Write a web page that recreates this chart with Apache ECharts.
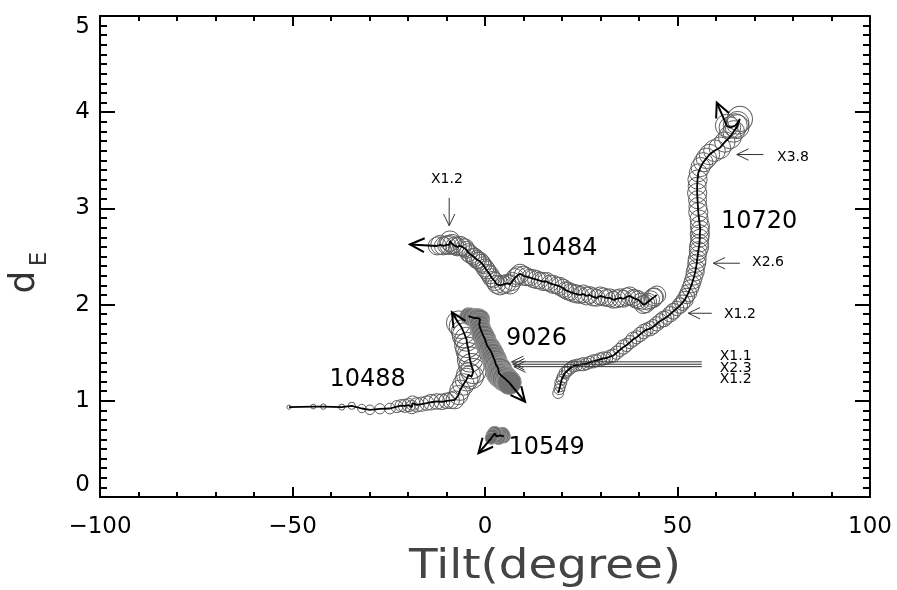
<!DOCTYPE html>
<html><head><meta charset="utf-8">
<script src="https://cdn.jsdelivr.net/npm/echarts@6/dist/echarts.min.js"></script>
<style>html,body{margin:0;padding:0;background:#fff;}#chart{width:897px;height:590px;}</style>
</head><body><div id="chart"></div>
<script>
// ---------- axes ----------
const xTicks = [-100, -50, 0, 50, 100];
const yTicks = [0, 1, 2, 3, 4, 5];
const xTitle = 'Tilt(degree)';
const yTitleMain = 'd';
const yTitleSub = 'E';

// ---------- AR 10488 ----------
const tilt10488 = [-50.9,-44.6,-42.0,-37.2,-34.6,-32.0,-29.9,-27.3,-24.7,-22.9,
  -21.8,-20.8,-19.8,-19.0,-18.8,-17.7,-16.5,-15.1,-14.0,-12.5,
  -11.2,-9.9,-8.8,-7.8,-6.9,-6.5,-5.6,-4.8,-4.3,-3.5,
  -3.0,-3.5,-3.9,-4.1,-4.3,-4.6,-4.8,-5.2,-5.6,-6.2,-6.9];
const dE10488 = [0.934,0.94,0.94,0.934,0.948,0.92,0.906,0.917,0.92,0.94,
  0.95,0.948,0.955,0.934,0.976,0.958,0.965,0.976,0.985,0.993,
  0.99,1.0,1.005,1.01,1.06,1.11,1.17,1.22,1.27,1.25,
  1.31,1.36,1.43,1.48,1.53,1.58,1.64,1.68,1.72,1.77,1.81];
const flux10488 = [0.35,0.4,0.45,0.5,0.6,0.7,0.8,0.85,0.9,1.0,
  1.0,1.1,1.1,1.1,1.2,1.2,1.2,1.2,1.3,1.3,
  1.3,1.3,1.4,1.5,1.6,1.7,1.8,1.9,2.0,2.0,
  2.1,2.1,2.1,2.0,2.1,2.1,2.0,2.1,2.0,2.0,2.0];

// ---------- AR 9026 ----------
const tilt9026 = [-4.3,-3.5,-2.6,-1.9,-1.3,-1.4,-1.5,-1.2,-0.9,-0.5,
  0.0,0.3,0.6,1.0,1.3,1.7,2.0,2.3,2.6,2.8,
  3.0,3.4,3.7,3.6,3.9,4.3,4.8,5.2,5.6,6.0,6.3];
const dE9026 = [1.88,1.87,1.86,1.86,1.85,1.82,1.79,1.75,1.72,1.68,
  1.64,1.60,1.57,1.55,1.53,1.50,1.48,1.44,1.41,1.38,
  1.36,1.34,1.32,1.29,1.27,1.26,1.24,1.23,1.22,1.20,1.19];
const flux9026 = [1.4,1.5,1.5,1.6,1.6,1.6,1.7,1.7,1.7,1.8,
  1.8,1.8,1.8,1.9,1.9,1.9,1.9,2.0,2.0,2.0,
  2.0,2.0,2.1,2.1,2.1,2.1,2.1,2.1,2.0,2.0,2.0];

// ---------- AR 10549 ----------
const tilt10549 = [4.9,4.5,4.0,3.5,3.0,2.5,2.0,1.6];
const dE10549 = [0.63,0.65,0.64,0.62,0.63,0.66,0.64,0.61];
const flux10549 = [1.1,1.2,1.1,1.2,1.1,1.2,1.1,1.0];

// ---------- AR 10484 ----------
const tilt10484 = [44.6,44.0,43.7,43.0,42.4,41.8,41.1,40.4,39.8,39.1,
  38.5,37.6,36.8,36.0,35.1,34.2,33.3,32.4,31.6,30.8,
  29.9,29.0,28.1,27.2,26.4,25.5,24.7,23.8,22.9,22.2,
  21.6,20.9,20.3,19.4,18.6,17.7,16.9,16.0,15.1,14.2,
  13.4,12.5,11.7,10.8,10.0,9.1,8.4,7.8,7.1,6.5,
  5.7,4.8,3.9,3.0,2.6,2.2,1.7,1.3,0.8,0.4,
  0.0,-0.4,-0.9,-1.3,-1.8,-2.2,-2.6,-3.0,-3.7,-4.3,
  -4.8,-5.2,-5.9,-6.5,-7.2,-7.8,-8.5,-9.1,-9.3,-10.0,
  -10.8,-11.6,-12.4];
const dE10484 = [2.10,2.08,2.07,2.05,2.03,2.01,2.00,2.03,2.05,2.06,
  2.07,2.09,2.08,2.06,2.07,2.06,2.05,2.07,2.07,2.08,
  2.09,2.07,2.08,2.10,2.09,2.11,2.10,2.11,2.12,2.13,
  2.14,2.15,2.17,2.19,2.20,2.21,2.22,2.24,2.24,2.25,
  2.26,2.27,2.28,2.29,2.30,2.32,2.30,2.28,2.24,2.21,
  2.22,2.21,2.20,2.21,2.24,2.26,2.28,2.31,2.33,2.36,
  2.38,2.41,2.43,2.45,2.46,2.47,2.49,2.50,2.52,2.54,
  2.57,2.59,2.60,2.61,2.60,2.61,2.63,2.66,2.62,2.62,
  2.61,2.62,2.61];
const flux10484 = [1.5,1.5,1.6,1.5,1.4,1.5,1.5,1.4,1.5,1.5,
  1.4,1.5,1.5,1.4,1.5,1.5,1.4,1.5,1.4,1.5,
  1.5,1.4,1.5,1.4,1.5,1.5,1.4,1.5,1.5,1.4,
  1.5,1.4,1.5,1.5,1.4,1.5,1.4,1.5,1.5,1.4,
  1.5,1.5,1.4,1.5,1.6,1.6,1.5,1.5,1.5,1.6,
  1.5,1.5,1.6,1.5,1.5,1.4,1.5,1.5,1.4,1.5,
  1.5,1.4,1.5,1.5,1.4,1.5,1.5,1.4,1.5,1.5,
  1.4,1.5,1.5,1.6,1.5,1.5,1.6,1.7,1.6,1.5,
  1.5,1.6,1.5];

// ---------- AR 10720 ----------
const tilt10720 = [19.0,19.3,19.5,19.7,19.9,20.3,20.8,21.2,21.6,22.2,
  22.9,23.8,24.7,25.5,26.4,27.2,28.1,29.0,29.9,30.8,
  31.6,32.5,33.3,34.2,35.1,36.0,36.8,37.7,38.5,39.4,
  40.3,41.2,42.0,42.9,43.7,44.6,45.5,46.4,47.2,48.1,
  48.9,49.8,50.6,51.3,51.9,52.4,52.8,53.3,53.7,54.0,
  54.3,54.6,54.8,55.0,55.1,55.3,55.4,55.6,55.7,55.8,
  55.8,55.9,55.8,55.6,55.4,55.3,55.2,55.1,55.1,55.2,
  55.4,56.0,56.7,57.5,58.3,59.6,61.0,62.3,63.6,64.6,
  65.5,66.2,65.6,65.0,63.6,62.8];
const dE10720 = [1.08,1.12,1.15,1.19,1.22,1.25,1.29,1.30,1.32,1.34,
  1.36,1.37,1.375,1.38,1.385,1.40,1.41,1.42,1.43,1.44,
  1.445,1.46,1.47,1.50,1.53,1.56,1.58,1.61,1.64,1.66,
  1.69,1.72,1.74,1.75,1.77,1.80,1.83,1.85,1.87,1.90,
  1.93,1.96,1.99,2.02,2.05,2.09,2.12,2.17,2.21,2.25,
  2.29,2.34,2.38,2.43,2.47,2.52,2.56,2.60,2.64,2.69,
  2.73,2.78,2.82,2.89,2.96,3.02,3.09,3.16,3.23,3.30,
  3.37,3.43,3.48,3.52,3.56,3.60,3.63,3.69,3.74,3.80,
  3.85,3.93,3.89,3.86,3.84,3.86];
const flux10720 = [0.9,0.9,0.9,1.0,0.9,1.0,1.0,0.9,1.0,1.0,
  1.0,1.0,1.0,1.1,1.0,1.0,1.1,1.0,1.1,1.1,
  1.0,1.1,1.1,1.1,1.1,1.2,1.1,1.1,1.2,1.1,
  1.2,1.2,1.1,1.2,1.2,1.2,1.2,1.3,1.2,1.3,
  1.3,1.2,1.3,1.3,1.4,1.3,1.4,1.4,1.4,1.4,
  1.4,1.5,1.4,1.5,1.5,1.4,1.5,1.6,1.5,1.5,
  1.6,1.5,1.6,1.5,1.6,1.5,1.5,1.6,1.5,1.6,
  1.5,1.6,1.6,1.7,1.7,1.8,1.8,1.7,1.9,1.8,
  2.0,2.1,1.9,2.0,1.8,1.9];

// ---------- direction arrows at track ends [tilt0, dE0, tilt1, dE1] ----------
const trackArrows = [
  [-6.9, 1.81, -8.6, 1.92],
  [6.3, 1.19, 10.4, 0.99],
  [1.6, 0.61, -1.7, 0.455],
  [-12.4, 2.61, -19.5, 2.625],
  [62.8, 3.86, 60.2, 4.10]
];
// ---------- annotation arrows ----------
const noteArrows = [
  [-9.3, 3.11, -9.3, 2.82],
  [72.3, 3.56, 65.4, 3.56],
  [66.2, 2.43, 59.3, 2.43],
  [58.9, 1.91, 52.8, 1.91],
  [56.3, 1.405, 6.9, 1.405],
  [56.3, 1.38, 7.2, 1.38],
  [56.3, 1.355, 7.5, 1.355]
];
const noteTexts = ['X1.2', 'X3.8', 'X2.6', 'X1.2', 'X1.1', 'X2.3', 'X1.2'];
const noteX = [-9.9, 80.0, 73.5, 66.2, 65.1, 65.1, 65.1];
const noteY = [3.30, 3.53, 2.44, 1.90, 1.46, 1.34, 1.22];

// ---------- region names ----------
const regionNames = ['10484', '10720', '9026', '10488', '10549'];
const regionX = [19.3, 71.2, 13.4, -30.5, 16.0];
const regionY = [2.58, 2.865, 1.65, 1.22, 0.51];

// ---------- build ----------
const FONT = '"DejaVu Sans", Verdana, sans-serif';
const FLUX_PX = 12;
const zip = (a, b, c) => a.map((v, i) => c ? [v, b[i], c[i]] : [v, b[i]]);

function circles(t, d, f, fill, stroke) {
  return {
    type: 'scatter', data: zip(t, d, f), symbol: 'circle',
    symbolSize: v => v[2] * FLUX_PX, silent: true, z: 2, clip: false,
    itemStyle: { color: fill, borderColor: stroke, borderWidth: 1, opacity: 1 }
  };
}
function path(t, d) {
  return {
    type: 'line', data: zip(t, d), symbol: 'none', showSymbol: false, silent: true, z: 3,
    lineStyle: { color: '#000', width: 1.8 }, clip: false
  };
}
function arrowSeries(data, headLen, width, color, z) {
  return {
    type: 'custom', data: data, silent: true, z: z, clip: false,
    encode: { x: [0, 2], y: [1, 3] },
    renderItem: function (params, api) {
      const p0 = api.coord([api.value(0), api.value(1)]);
      const p1 = api.coord([api.value(2), api.value(3)]);
      const ang = Math.atan2(p1[1] - p0[1], p1[0] - p0[0]);
      const a = 0.45;
      const h1 = [p1[0] - headLen * Math.cos(ang - a), p1[1] - headLen * Math.sin(ang - a)];
      const h2 = [p1[0] - headLen * Math.cos(ang + a), p1[1] - headLen * Math.sin(ang + a)];
      return {
        type: 'group', children: [
          { type: 'line', shape: { x1: p0[0], y1: p0[1], x2: p1[0], y2: p1[1] }, style: { stroke: color, lineWidth: width } },
          { type: 'polyline', shape: { points: [h1, p1, h2] }, style: { stroke: color, lineWidth: width, fill: null } }
        ]
      };
    }
  };
}
function textSeries(names, xs, ys, size, color) {
  return {
    type: 'custom', silent: true, z: 6, clip: false,
    encode: { x: 0, y: 1 },
    data: xs.map((x, i) => [x, ys[i]]),
    renderItem: function (params, api) {
      const p = api.coord([api.value(0), api.value(1)]);
      return {
        type: 'text', x: p[0], y: p[1],
        style: { text: names[params.dataIndex], fontSize: size, fontFamily: FONT, fill: color,
          align: 'center', verticalAlign: 'middle' }
      };
    }
  };
}

const fmt = v => (v < 0 ? '\u2212' + Math.abs(v) : String(v));
const tickStyle = { color: '#000', width: 2 };
function xAx(pos, show) {
  return {
    type: 'value', position: pos, min: xTicks[0], max: xTicks[xTicks.length - 1], interval: xTicks[1] - xTicks[0],
    axisLine: { show: true, onZero: false, lineStyle: { color: '#000', width: 2 } },
    axisTick: { show: true, inside: true, length: 10, lineStyle: tickStyle },
    minorTick: { show: true, splitNumber: 5, length: 5, lineStyle: tickStyle },
    splitLine: { show: false }, minorSplitLine: { show: false },
    axisLabel: { show: show, margin: 19, fontSize: 23, fontFamily: FONT, color: '#000', formatter: fmt }
  };
}
function yAx(pos, show) {
  return {
    type: 'value', position: pos, min: yTicks[0], max: yTicks[yTicks.length - 1], interval: yTicks[1] - yTicks[0],
    axisLine: { show: true, onZero: false, lineStyle: { color: '#000', width: 2 } },
    axisTick: { show: true, inside: true, length: 15, lineStyle: tickStyle },
    minorTick: { show: true, splitNumber: 10, length: 7, lineStyle: tickStyle },
    splitLine: { show: false }, minorSplitLine: { show: false },
    axisLabel: { show: show, margin: 10, fontSize: 23, fontFamily: FONT, color: '#000', formatter: fmt,
      verticalAlignMinLabel: 'bottom', verticalAlignMaxLabel: 'top' }
  };
}

const chart = echarts.init(document.getElementById('chart'), null, { renderer: 'canvas' });
chart.setOption({
  animation: false,
  backgroundColor: '#fff',
  grid: { left: 100, right: 27, top: 16, bottom: 93, containLabel: false },
  xAxis: [xAx('bottom', true), xAx('top', false)],
  yAxis: [yAx('left', true), yAx('right', false)],
  graphic: [
    { type: 'text', x: 545, y: 568, scaleX: 1.17, silent: true,
      style: { text: xTitle, fontSize: 40, fontFamily: FONT, fill: '#444', align: 'center', verticalAlign: 'middle' } },
    { type: 'text', x: 25, y: 282, rotation: Math.PI / 2, silent: true,
      style: { text: yTitleMain, fontSize: 36, fontFamily: FONT, fill: '#333', align: 'center', verticalAlign: 'middle' } },
    { type: 'text', x: 40, y: 259, rotation: Math.PI / 2, silent: true,
      style: { text: yTitleSub, fontSize: 23, fontFamily: FONT, fill: '#333', align: 'center', verticalAlign: 'middle' } }
  ],
  series: [
    circles(tilt10488, dE10488, flux10488, 'rgba(0,0,0,0)', '#5e5e5e'),
    circles(tilt10484, dE10484, flux10484, 'rgba(0,0,0,0)', '#5e5e5e'),
    circles(tilt10720, dE10720, flux10720, 'rgba(0,0,0,0)', '#5e5e5e'),
    circles(tilt9026, dE9026, flux9026, '#6e6e6e', '#959595'),
    circles(tilt10549, dE10549, flux10549, '#6e6e6e', '#959595'),
    path(tilt10488, dE10488),
    path(tilt10484, dE10484),
    path(tilt10720, dE10720),
    path(tilt9026, dE9026),
    path(tilt10549, dE10549),
    arrowSeries(trackArrows, 16, 2, '#000', 5),
    arrowSeries(noteArrows, 13, 1, '#333', 5),
    textSeries(regionNames, regionX, regionY, 24, '#000'),
    textSeries(noteTexts, noteX, noteY, 14, '#000')
  ]
});
</script>
</body></html>
